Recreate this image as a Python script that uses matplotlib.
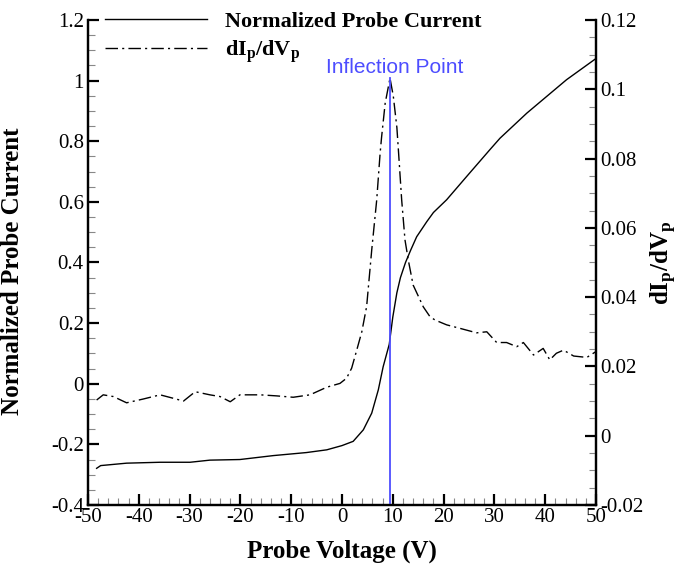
import matplotlib
matplotlib.use("Agg")
import matplotlib.pyplot as plt
import matplotlib.ticker as ticker
import numpy as np

plt.rcParams.update({
    "font.family": ["Liberation Serif", "DejaVu Serif"],
    "mathtext.fontset": "custom",
    "mathtext.rm": "Liberation Serif:bold",
    "mathtext.it": "Liberation Serif:bold",
    "mathtext.bf": "Liberation Serif:bold",
})

# normalized probe current (left axis)
v_current = [-48.3, -47.5, -42.4, -35.8, -29.9, -26.0, -20.1, -13.5, -7.0, -3.0,
             0.0, 2.2, 4.2, 5.85, 7.15, 8.1, 9.3, 10.0, 10.8, 11.5, 12.5, 13.5,
             14.7, 16.7, 18.0, 20.6, 24.5, 29.1, 31.1, 36.4, 40.3, 44.2, 50.0]
i_current = [-0.279, -0.27, -0.262, -0.259, -0.259, -0.252, -0.25, -0.237, -0.227, -0.218,
             -0.204, -0.19, -0.152, -0.097, -0.02, 0.056, 0.13, 0.22, 0.30, 0.35, 0.40, 0.44,
             0.485, 0.535, 0.565, 0.607, 0.683, 0.772, 0.81, 0.893, 0.948, 1.003, 1.073]

# dIp/dVp (right axis)
v_deriv = [-48.3, -47.0, -45.0, -42.4, -39.1, -35.8, -33.2, -31.2, -28.9, -26.0,
           -24.0, -22.0, -20.1, -16.1, -12.9, -9.6, -6.3, -3.0, -0.4, 0.9,
           1.9, 2.9, 3.9, 4.85, 5.85, 6.83, 7.5, 7.8, 8.5, 9.45,
           10.1, 10.8, 11.1, 11.75, 12.4, 13.05, 14.0, 16.0, 17.3, 18.3,
           20.6, 23.2, 26.5, 28.5, 30.45, 32.4, 34.4, 35.7, 37.7, 39.6,
           40.9, 42.2, 43.6, 45.6, 48.2, 50.0]
didv = [0.0103, 0.0118, 0.0113, 0.0095, 0.0106, 0.0118, 0.0108, 0.0100, 0.0127, 0.0118,
        0.0113, 0.0098, 0.0118, 0.0118, 0.0115, 0.0111, 0.0118, 0.0140, 0.0151, 0.0166,
        0.0195, 0.0247, 0.0300, 0.0373, 0.0536, 0.0680, 0.0815, 0.0863, 0.0960, 0.1032,
        0.0980, 0.0890, 0.0825, 0.0680, 0.0565, 0.0507, 0.0435, 0.0372, 0.0344, 0.0334,
        0.0320, 0.0310, 0.0297, 0.0300, 0.0269, 0.0269, 0.0257, 0.0269, 0.0233, 0.0252,
        0.0219, 0.0238, 0.0247, 0.0230, 0.0226, 0.0243]

v_inflection = 9.4

fig = plt.figure(figsize=(6.81, 5.65), dpi=100)
ax = fig.add_axes([0.1292, 0.1062, 0.7460, 0.8584])
ax2 = ax.twinx()

line1, = ax.plot(v_current, i_current, color="black", linewidth=1.0,
                 label="Normalized Probe Current")
line2, = ax2.plot(v_deriv, didv, color="black", linewidth=1.0,
                  linestyle=(0, (9, 3, 1.5, 3)), label=r"$\mathrm{dI_p/dV_p}$")

# inflection marker up to the derivative peak
peak = max(didv)
ax2.plot([v_inflection, v_inflection], [-0.02, peak], color="#4d4dff", linewidth=1.3)
ax2.text(v_inflection + 0.9, peak + 0.0003, "Inflection Point", color="#4d4dff",
         fontsize=15, family="Liberation Sans", ha="center", va="bottom")

ax.set_xlim(-50, 50)
ax.set_ylim(-0.4, 1.2)
ax2.set_ylim(-0.02, 0.12)

ax.xaxis.set_major_locator(ticker.MultipleLocator(10))
ax.xaxis.set_minor_locator(ticker.MultipleLocator(2))
ax.yaxis.set_major_locator(ticker.MultipleLocator(0.2))
ax.yaxis.set_minor_locator(ticker.MultipleLocator(0.05))
ax2.yaxis.set_major_locator(ticker.MultipleLocator(0.02))
ax2.yaxis.set_minor_locator(ticker.MultipleLocator(0.005))
fmt = ticker.FuncFormatter(lambda v, p: f"{v:g}")
ax.xaxis.set_major_formatter(fmt)
ax.yaxis.set_major_formatter(fmt)
ax2.yaxis.set_major_formatter(fmt)

for a in (ax, ax2):
    a.spines["top"].set_visible(False)
    for s in a.spines.values():
        s.set_linewidth(1.6)
    a.tick_params(which="major", direction="in", length=8, width=1.6, labelsize=15)
    a.tick_params(which="minor", direction="in", length=5, width=0.8, color="#888888")
ax.tick_params(axis="x", pad=2)
ax.tick_params(axis="y", pad=3)
ax2.tick_params(axis="y", pad=3)

ax.set_xlabel("Probe Voltage (V)", fontsize=18, fontweight="bold", labelpad=9)
ax.set_ylabel("Normalized Probe Current", fontsize=18, fontweight="bold")
ax.yaxis.set_label_coords(-0.126, 0.482)
ax2.set_ylabel(r"$\mathrm{dI_p/dV_p}$", fontsize=18, rotation=90, labelpad=4)

ax2.legend([line1, line2], [line1.get_label(), line2.get_label()],
           loc="upper left", bbox_to_anchor=(0.033, 1.018), frameon=False,
           prop={"weight": "bold", "size": 16}, handlelength=4.6,
           handletextpad=0.8, labelspacing=0.3, borderpad=0, borderaxespad=0)

fig.savefig("out.png", dpi=100)
